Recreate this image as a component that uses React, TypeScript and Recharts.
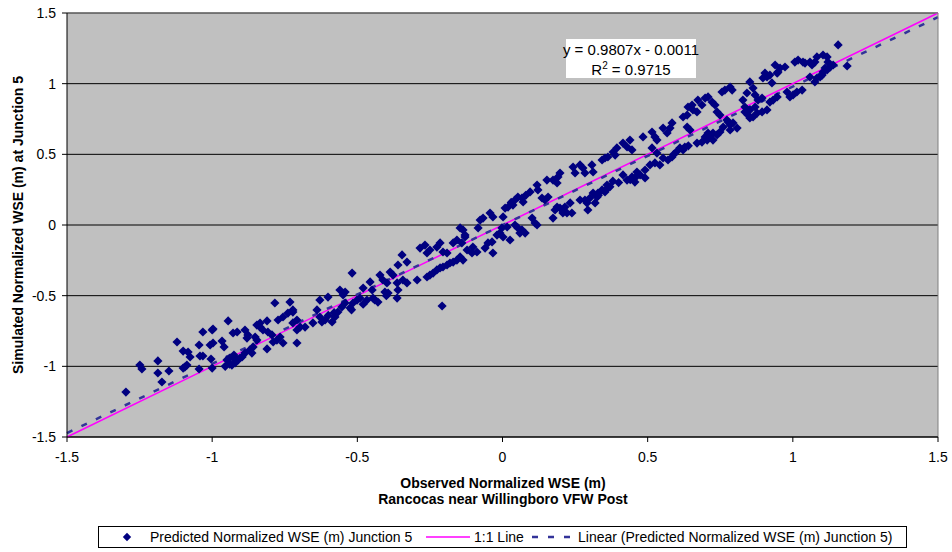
import React from 'react';
import { ScatterChart, Scatter, XAxis, YAxis, CartesianGrid, ReferenceLine } from 'recharts';

const axisTicks = [-1.5, -1, -0.5, 0, 0.5, 1, 1.5];

// [observed, simulated] normalized WSE (m)
const predictedPoints: [number, number][] = [
  [-1.297, -1.182], [-1.249, -0.991], [-1.242, -1.019], [-1.187, -0.962], [-1.187, -1.047], [-1.173, -1.111],
  [-1.149, -1.033], [-1.121, -0.828], [-1.100, -0.892], [-1.083, -0.899], [-1.076, -0.934], [-1.094, -1.005],
  [-1.087, -0.991], [-1.100, -1.012], [-1.045, -0.849], [-1.042, -0.927], [-1.032, -0.927], [-1.045, -1.019],
  [-1.032, -0.757], [-0.997, -0.736], [-1.007, -0.849], [-0.997, -0.835], [-1.004, -0.948], [-1.000, -1.012],
  [-0.966, -0.821], [-0.959, -0.863], [-0.945, -0.679], [-0.949, -0.955], [-0.939, -0.941], [-0.928, -0.934],
  [-0.932, -0.991], [-0.921, -0.976], [-0.928, -0.764], [-0.914, -0.757], [-0.911, -0.955], [-0.897, -0.934],
  [-0.887, -0.906], [-0.887, -0.743], [-0.877, -0.778], [-0.880, -0.800], [-0.870, -0.884], [-0.859, -0.863],
  [-0.863, -0.906], [-0.846, -0.708], [-0.835, -0.722], [-0.825, -0.743], [-0.852, -0.793], [-0.846, -0.814],
  [-0.811, -0.679], [-0.811, -0.877], [-0.808, -0.757], [-0.794, -0.778], [-0.784, -0.552], [-0.790, -0.828],
  [-0.777, -0.814], [-0.766, -0.793], [-0.756, -0.835], [-0.773, -0.672], [-0.756, -0.651], [-0.739, -0.623],
  [-0.722, -0.616], [-0.732, -0.545], [-0.708, -0.743], [-0.708, -0.835], [-1.000, -0.743], [-0.835, -0.694],
  [-0.918, -0.962], [-0.904, -0.941], [-0.925, -0.920], [-0.940, -0.985], [-0.955, -1.000],
  [-0.722, -0.601], [-0.708, -0.672], [-0.680, -0.722], [-0.639, -0.601], [-0.629, -0.651], [-0.629, -0.531],
  [-0.601, -0.510], [-0.587, -0.686], [-0.577, -0.651], [-0.567, -0.616], [-0.553, -0.580], [-0.542, -0.552],
  [-0.560, -0.460], [-0.542, -0.474], [-0.549, -0.495], [-0.518, -0.340], [-0.525, -0.587], [-0.515, -0.552],
  [-0.501, -0.531], [-0.491, -0.517], [-0.480, -0.446], [-0.456, -0.403], [-0.449, -0.460], [-0.467, -0.531],
  [-0.446, -0.517], [-0.429, -0.545], [-0.422, -0.354], [-0.412, -0.389], [-0.398, -0.410], [-0.405, -0.474],
  [-0.394, -0.481], [-0.387, -0.333], [-0.377, -0.354], [-0.363, -0.410], [-0.360, -0.460], [-0.363, -0.517],
  [-0.360, -0.283], [-0.346, -0.212], [-0.329, -0.262], [-0.343, -0.389], [-0.329, -0.410], [-0.294, -0.389],
  [-0.284, -0.163], [-0.267, -0.142], [-0.260, -0.198], [-0.250, -0.177],
  [-0.722, -0.693], [-0.697, -0.722], [-0.653, -0.693], [-0.622, -0.686], [-0.611, -0.672],
  [-0.600, -0.640], [-0.580, -0.620], [-0.520, -0.600], [-0.480, -0.560], [-0.440, -0.530], [-0.400, -0.500],
  [-0.260, -0.368], [-0.250, -0.354], [-0.239, -0.340], [-0.226, -0.318], [-0.215, -0.304], [-0.205, -0.297],
  [-0.191, -0.283], [-0.181, -0.269], [-0.170, -0.262], [-0.157, -0.248],
  [-0.226, -0.156], [-0.215, -0.127], [-0.205, -0.191], [-0.191, -0.198], [-0.208, -0.573], [-0.170, -0.127],
  [-0.157, -0.106], [-0.146, -0.021], [-0.136, -0.035], [-0.129, -0.071], [-0.146, -0.226], [-0.136, -0.248],
  [-0.122, -0.177],
  [-0.129, -0.085], [-0.140, -0.127], [-0.102, -0.156], [-0.088, -0.191], [-0.105, -0.198], [-0.077, 0.035],
  [-0.067, 0.049], [-0.084, -0.021], [-0.060, -0.163], [-0.050, -0.127], [-0.036, -0.120], [-0.033, -0.198],
  [-0.043, 0.085], [-0.033, 0.057], [-0.019, -0.071], [-0.009, -0.057], [0.002, -0.085], [-0.002, -0.021],
  [0.016, -0.014], [0.026, -0.106], [0.002, 0.057], [0.009, 0.120], [0.019, 0.127], [0.036, 0.141],
  [0.030, 0.160], [0.080, 0.210],
  [0.043, 0.000], [0.053, -0.021], [0.060, -0.057], [0.067, -0.035], [0.078, -0.057], [0.043, 0.177],
  [0.053, 0.198], [0.067, 0.191], [0.071, 0.163], [0.095, 0.234], [0.102, 0.049], [0.112, 0.014],
  [0.119, 0.000], [0.119, 0.283], [0.122, 0.248], [0.136, 0.191], [0.146, 0.177], [0.157, 0.198],
  [0.153, 0.318], [0.174, 0.049], [0.181, 0.106], [0.188, 0.127], [0.198, 0.120], [0.208, 0.085],
  [0.215, 0.127], [0.233, 0.156], [0.222, 0.085], [0.239, 0.085], [0.174, 0.318], [0.188, 0.297],
  [0.191, 0.340], [0.198, 0.368], [0.243, 0.410], [0.250, 0.368], [0.267, 0.425], [0.277, 0.403],
  [0.284, 0.368], [0.267, 0.177], [0.284, 0.177], [0.291, 0.156], [0.294, 0.106], [0.301, 0.191],
  [0.312, 0.226], [0.326, 0.198], [0.319, 0.156], [0.329, 0.226], [0.343, 0.248], [0.353, 0.234],
  [0.330, 0.210], [0.370, 0.270], [0.400, 0.300], [0.380, 0.310], [0.440, 0.320],
  [0.360, 0.283], [0.363, 0.262], [0.308, 0.425], [0.312, 0.375], [0.343, 0.460], [0.353, 0.474],
  [0.363, 0.481], [0.381, 0.516], [0.388, 0.495], [0.394, 0.545], [0.415, 0.580], [0.429, 0.552],
  [0.439, 0.601], [0.415, 0.354], [0.429, 0.318], [0.446, 0.340], [0.456, 0.304], [0.463, 0.375],
  [0.474, 0.354], [0.491, 0.389], [0.508, 0.425], [0.525, 0.439], [0.542, 0.425], [0.456, 0.333], [0.491, 0.333],
  [0.446, 0.531], [0.484, 0.623], [0.515, 0.658], [0.525, 0.623], [0.532, 0.601], [0.553, 0.686],
  [0.567, 0.651], [0.584, 0.722], [0.577, 0.686], [0.515, 0.545], [0.532, 0.509], [0.553, 0.474],
  [0.570, 0.460], [0.584, 0.481], [0.611, 0.545], [0.628, 0.552], [0.622, 0.531], [0.622, 0.764],
  [0.590, 0.500], [0.600, 0.520], [0.640, 0.560],
  [0.636, 0.778], [0.639, 0.835], [0.653, 0.849], [0.656, 0.814], [0.670, 0.800], [0.636, 0.693],
  [0.646, 0.672], [0.670, 0.580], [0.687, 0.587], [0.698, 0.623], [0.708, 0.651], [0.715, 0.623],
  [0.725, 0.651], [0.739, 0.637], [0.749, 0.658], [0.725, 0.601], [0.705, 0.601], [0.673, 0.884],
  [0.687, 0.849], [0.698, 0.898], [0.708, 0.906], [0.722, 0.870], [0.732, 0.849], [0.739, 0.800],
  [0.749, 0.778], [0.756, 0.941], [0.766, 0.955], [0.784, 0.976], [0.791, 0.955], [0.760, 0.693],
  [0.773, 0.743], [0.784, 0.708], [0.794, 0.722], [0.808, 0.686], [0.784, 0.672], [0.777, 0.729],
  [0.828, 0.884], [0.835, 0.835], [0.842, 0.934], [0.852, 1.012], [0.863, 0.969], [0.870, 0.920],
  [0.880, 0.884], [0.894, 0.898], [0.835, 0.800], [0.846, 0.778], [0.852, 0.757], [0.863, 0.764],
  [0.852, 0.814], [0.870, 0.835], [0.877, 0.792], [0.894, 0.800], [0.911, 0.814], [0.904, 1.075],
  [0.911, 1.047], [0.921, 1.061], [0.897, 1.040], [0.928, 1.005], [0.939, 1.132], [0.956, 1.111],
  [0.973, 1.118], [0.946, 1.075], [0.949, 1.082], [0.921, 0.870], [0.932, 0.884], [0.946, 0.906],
  [0.980, 0.941], [0.990, 0.906], [1.001, 0.920], [1.014, 0.941], [1.032, 0.955], [1.007, 1.153],
  [1.018, 1.167], [1.035, 1.153], [1.042, 1.146], [1.059, 1.153], [1.083, 1.189], [1.076, 1.153],
  [1.066, 1.132], [1.104, 1.082], [1.101, 1.061], [1.118, 1.097], [1.111, 1.111], [1.076, 1.012],
  [1.083, 1.040], [1.094, 1.047], [1.059, 1.047], [1.118, 1.189], [1.104, 1.203], [1.156, 1.274],
  [1.129, 1.118], [1.139, 1.132], [1.121, 1.153], [1.187, 1.125],
];

const oneToOneLine = [{ x: -1.5, y: -1.5 }, { x: 1.5, y: 1.5 }];
const trendLine = [{ x: -1.5, y: -1.4722 }, { x: 1.5, y: 1.47 }];

const equationText = 'y = 0.9807x - 0.0011';
const rSquaredValue = '0.9715';
const xTitle1 = 'Observed Normalized WSE (m)';
const xTitle2 = 'Rancocas near Willingboro VFW Post';
const yTitle = 'Simulated Normalized WSE (m) at Junction 5';
const legendLabels = [
  'Predicted Normalized WSE (m) Junction 5',
  '1:1 Line',
  'Linear (Predicted Normalized WSE (m) Junction 5)',
];

const scatterData = predictedPoints.map(([x, y]) => ({ x, y }));

const FONT = '"Liberation Sans", Arial, sans-serif';
const NAVY = '#000080';
const TREND = '#333399';
const MAGENTA = '#FF00FF';

const Diamond = (props: any) => {
  const { cx, cy } = props;
  if (cx == null || cy == null) return <g />;
  const r = 4.6;
  return <path d={`M${cx},${cy - r}L${cx + r},${cy}L${cx},${cy + r}L${cx - r},${cy}Z`} fill={NAVY} />;
};

export default function App() {
  return (
    <div style={{ position: 'absolute', left: 0, top: 0, width: 952, height: 552, background: '#fff', fontFamily: FONT }}>
      <ScatterChart width={952} height={552} margin={{ top: 13, right: 14, bottom: 0, left: 0 }} style={{ fontFamily: FONT }}>
        <CartesianGrid horizontal vertical={false} stroke="#000" fill="#C0C0C0" fillOpacity={1} />
        <XAxis
          type="number"
          dataKey="x"
          domain={[-1.5, 1.5]}
          ticks={axisTicks}
          interval={0}
          height={115}
          tickSize={5}
          tickMargin={10}
          stroke="#000"
          tick={{ fill: '#000', fontSize: 14, fontFamily: FONT }}
        />
        <YAxis
          type="number"
          dataKey="y"
          domain={[-1.5, 1.5]}
          ticks={axisTicks}
          interval={0}
          width={67}
          tickSize={5}
          tickMargin={6}
          stroke="#000"
          tick={{ fill: '#000', fontSize: 14, fontFamily: FONT }}
        />
        <Scatter data={scatterData} shape={Diamond} isAnimationActive={false} />
        <ReferenceLine segment={oneToOneLine} stroke={MAGENTA} strokeWidth={1.5} ifOverflow="visible" />
        <ReferenceLine segment={trendLine} stroke={TREND} strokeWidth={2.5} strokeDasharray="6 10" ifOverflow="visible" />
        <ReferenceLine y={1.5} stroke="#808080" ifOverflow="visible" />
        <ReferenceLine x={1.5} stroke="#808080" ifOverflow="visible" />
      </ScatterChart>
      <svg width={952} height={552} style={{ position: 'absolute', left: 0, top: 0, pointerEvents: 'none' }} fontFamily={FONT}>
        <rect x={566} y={39} width={130} height={39} fill="#fff" />
        <text x={631} y={55} textAnchor="middle" fontSize={15} fill="#000">{equationText}</text>
        <text x={631} y={75} textAnchor="middle" fontSize={15} fill="#000">
          <tspan>R</tspan>
          <tspan dy={-6} fontSize={10}>2</tspan>
          <tspan dy={6}>{` = ${rSquaredValue}`}</tspan>
        </text>
        <text x={503} y={488} textAnchor="middle" fontSize={14} fontWeight="bold" fill="#000">{xTitle1}</text>
        <text x={503} y={504} textAnchor="middle" fontSize={14} fontWeight="bold" fill="#000">{xTitle2}</text>
        <text transform="translate(23,225) rotate(-90)" textAnchor="middle" fontSize={14} fontWeight="bold" fill="#000">{yTitle}</text>
        <rect x={98.5} y={526.5} width={808} height={21} fill="#fff" stroke="#000" />
        <path d="M127,532.8L131.2,537L127,541.2L122.8,537Z" fill={NAVY} />
        <text x={150} y={542} fontSize={14} fill="#000">{legendLabels[0]}</text>
        <line x1={426} y1={537} x2={470} y2={537} stroke={MAGENTA} strokeWidth={1.5} />
        <text x={474} y={542} fontSize={14} fill="#000">{legendLabels[1]}</text>
        <line x1={532} y1={537} x2={571} y2={537} stroke={TREND} strokeWidth={2.5} strokeDasharray="6 10" />
        <text x={578} y={542} fontSize={14} fill="#000">{legendLabels[2]}</text>
      </svg>
    </div>
  );
}
